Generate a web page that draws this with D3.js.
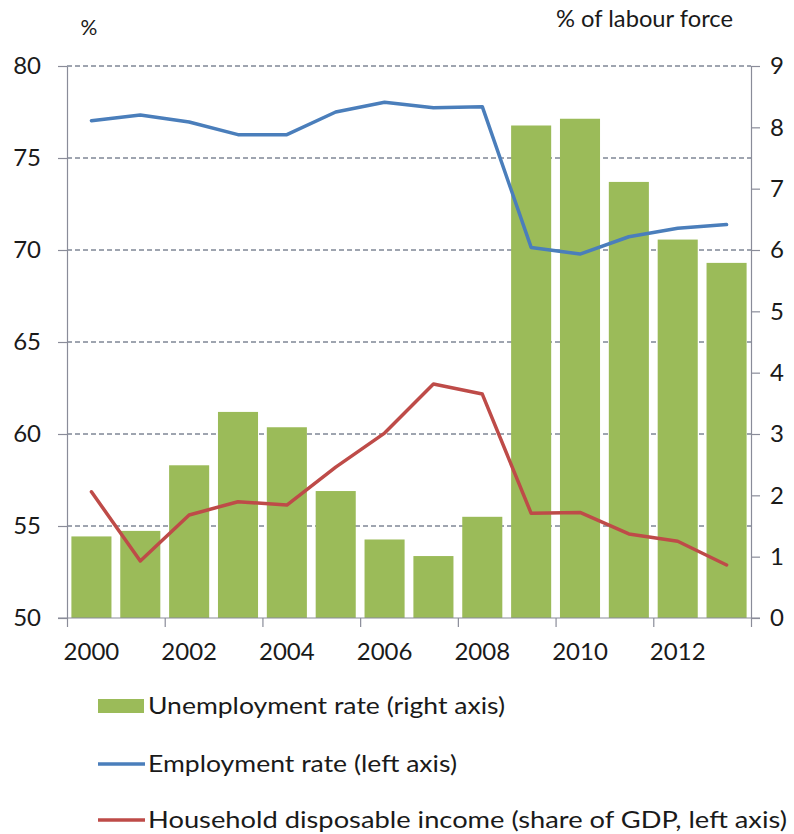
<!DOCTYPE html>
<html>
<head>
<meta charset="utf-8">
<script src="https://cdn.jsdelivr.net/npm/d3@7"></script>
<style>
  html, body { margin: 0; padding: 0; background: #fff; }
  svg { display: block; font-family: Lato, "Liberation Sans", Arial, sans-serif; }
</style>
</head>
<body>
<svg id="chart" width="794" height="834"></svg>
<script>
// ---- Data ----
const years = [2000, 2001, 2002, 2003, 2004, 2005, 2006, 2007, 2008, 2009, 2010, 2011, 2012, 2013];
const unemploymentRate = [1.33, 1.42, 2.49, 3.36, 3.11, 2.07, 1.28, 1.01, 1.65, 8.03, 8.14, 7.11, 6.17, 5.79];
const employmentRate = [77.03, 77.34, 76.96, 76.27, 76.27, 77.5, 78.03, 77.73, 77.79, 70.14, 69.78, 70.72, 71.18, 71.38];
const householdIncome = [56.86, 53.1, 55.6, 56.32, 56.14, 58.2, 60.05, 62.72, 62.17, 55.69, 55.74, 54.57, 54.17, 52.88];
const leftTicks = [50, 55, 60, 65, 70, 75, 80];
const rightTicks = [0, 1, 2, 3, 4, 5, 6, 7, 8, 9];
const xLabelYears = [2000, 2002, 2004, 2006, 2008, 2010, 2012];
const legendItems = [
  { label: "Unemployment rate (right axis)", type: "bar", color: "#9BBB59", width: 357 },
  { label: "Employment rate (left axis)", type: "line", color: "#4A7EBB", width: 309 },
  { label: "Household disposable income (share of GDP, left axis)", type: "line", color: "#BE4B48", width: 639 }
];

// ---- Layout ----
const L = 67, R = 751, T = 66, B = 618;
const FONT = "Lato, 'Liberation Sans', Arial, sans-serif";
const svg = d3.select("#chart");

const x = d3.scaleBand().domain(years).range([L, R]).paddingInner(0.18).paddingOuter(0.09);
const xi = d3.scaleLinear().domain([0, years.length]).range([L, R]);
const yL = d3.scaleLinear().domain([50, 80]).range([B, T]);
const yR = d3.scaleLinear().domain([0, 9]).range([B, T]);

// Gridlines (dashed)
svg.append("g").selectAll("line")
  .data(leftTicks.filter(d => d > 50))
  .join("line")
  .attr("x1", L).attr("x2", R)
  .attr("y1", d => yL(d)).attr("y2", d => yL(d))
  .attr("stroke", "#3f4b60").attr("stroke-width", 1)
  .attr("stroke-dasharray", "5,3");

// Bars
svg.append("g").selectAll("rect")
  .data(years.map((y, i) => ({ y, v: unemploymentRate[i] })))
  .join("rect")
  .attr("x", d => x(d.y))
  .attr("width", x.bandwidth())
  .attr("y", d => yR(d.v))
  .attr("height", d => yR(0) - yR(d.v))
  .attr("fill", "#9BBB59");

// Lines
const lineGen = (arr, scale) => d3.line()
  .x((d, i) => x(years[i]) + x.bandwidth() / 2)
  .y(d => scale(d))(arr);

svg.append("path")
  .attr("d", lineGen(employmentRate, yL))
  .attr("fill", "none").attr("stroke", "#4A7EBB").attr("stroke-width", 3.5)
  .attr("stroke-linejoin", "round").attr("stroke-linecap", "round");

svg.append("path")
  .attr("d", lineGen(householdIncome, yL))
  .attr("fill", "none").attr("stroke", "#BE4B48").attr("stroke-width", 3.5)
  .attr("stroke-linejoin", "round").attr("stroke-linecap", "round");

// Axes
const axisColor = "#8a8c99";
function styleAxis(g) {
  g.select(".domain").attr("stroke", axisColor).attr("stroke-width", 1.2);
  g.selectAll(".tick line").attr("stroke", axisColor).attr("stroke-width", 1.2);
  g.selectAll(".tick text").attr("fill", "#1a1a1a").style("font-size", "24px")
    .style("font-family", FONT);
}

const gL = svg.append("g").attr("transform", `translate(${L},0)`)
  .call(d3.axisLeft(yL).tickValues(leftTicks).tickSize(9).tickSizeOuter(0).tickPadding(17));
styleAxis(gL);

const gR = svg.append("g").attr("transform", `translate(${R},0)`)
  .call(d3.axisRight(yR).tickValues(rightTicks).tickSize(9).tickSizeOuter(0).tickPadding(10));
styleAxis(gR);

// Bottom axis: tick marks between categories every 2
const gB = svg.append("g").attr("transform", `translate(0,${B})`)
  .call(d3.axisBottom(xi).tickValues(d3.range(0, years.length + 1, 2)).tickSize(9).tickSizeOuter(0).tickFormat(""));
styleAxis(gB);
gB.select(".domain").attr("d", `M${L - 9},0H${R + 9}`);

// Bottom labels at category centers
const gBL = svg.append("g").attr("transform", `translate(0,${B})`)
  .call(d3.axisBottom(x).tickValues(xLabelYears).tickSize(0).tickPadding(25).tickFormat(d3.format("d")));
styleAxis(gBL);
gBL.select(".domain").remove();

// Axis titles
svg.append("text").attr("x", 89).attr("y", 35).attr("text-anchor", "middle")
  .style("font-size", "21px").style("font-family", FONT).attr("fill", "#1a1a1a").text("%");
svg.append("text").attr("x", 556).attr("y", 27)
  .attr("textLength", 177).attr("lengthAdjust", "spacingAndGlyphs")
  .style("font-size", "23px").style("font-family", FONT).attr("fill", "#1a1a1a").text("% of labour force");

// Legend
const lg = svg.append("g");
const rowBase = [714, 772, 828];
legendItems.forEach((d, i) => {
  const cy = rowBase[i] - 8;
  if (d.type === "bar") {
    lg.append("rect").attr("x", 98).attr("y", cy - 7).attr("width", 46).attr("height", 14).attr("fill", d.color);
  } else {
    lg.append("line").attr("x1", 98).attr("x2", 145).attr("y1", cy).attr("y2", cy)
      .attr("stroke", d.color).attr("stroke-width", 3.5);
  }
  lg.append("text").attr("x", 148).attr("y", rowBase[i])
    .attr("textLength", d.width).attr("lengthAdjust", "spacingAndGlyphs")
    .style("font-size", "24px").style("font-family", FONT).attr("fill", "#1a1a1a").text(d.label);
});
</script>
</body>
</html>
